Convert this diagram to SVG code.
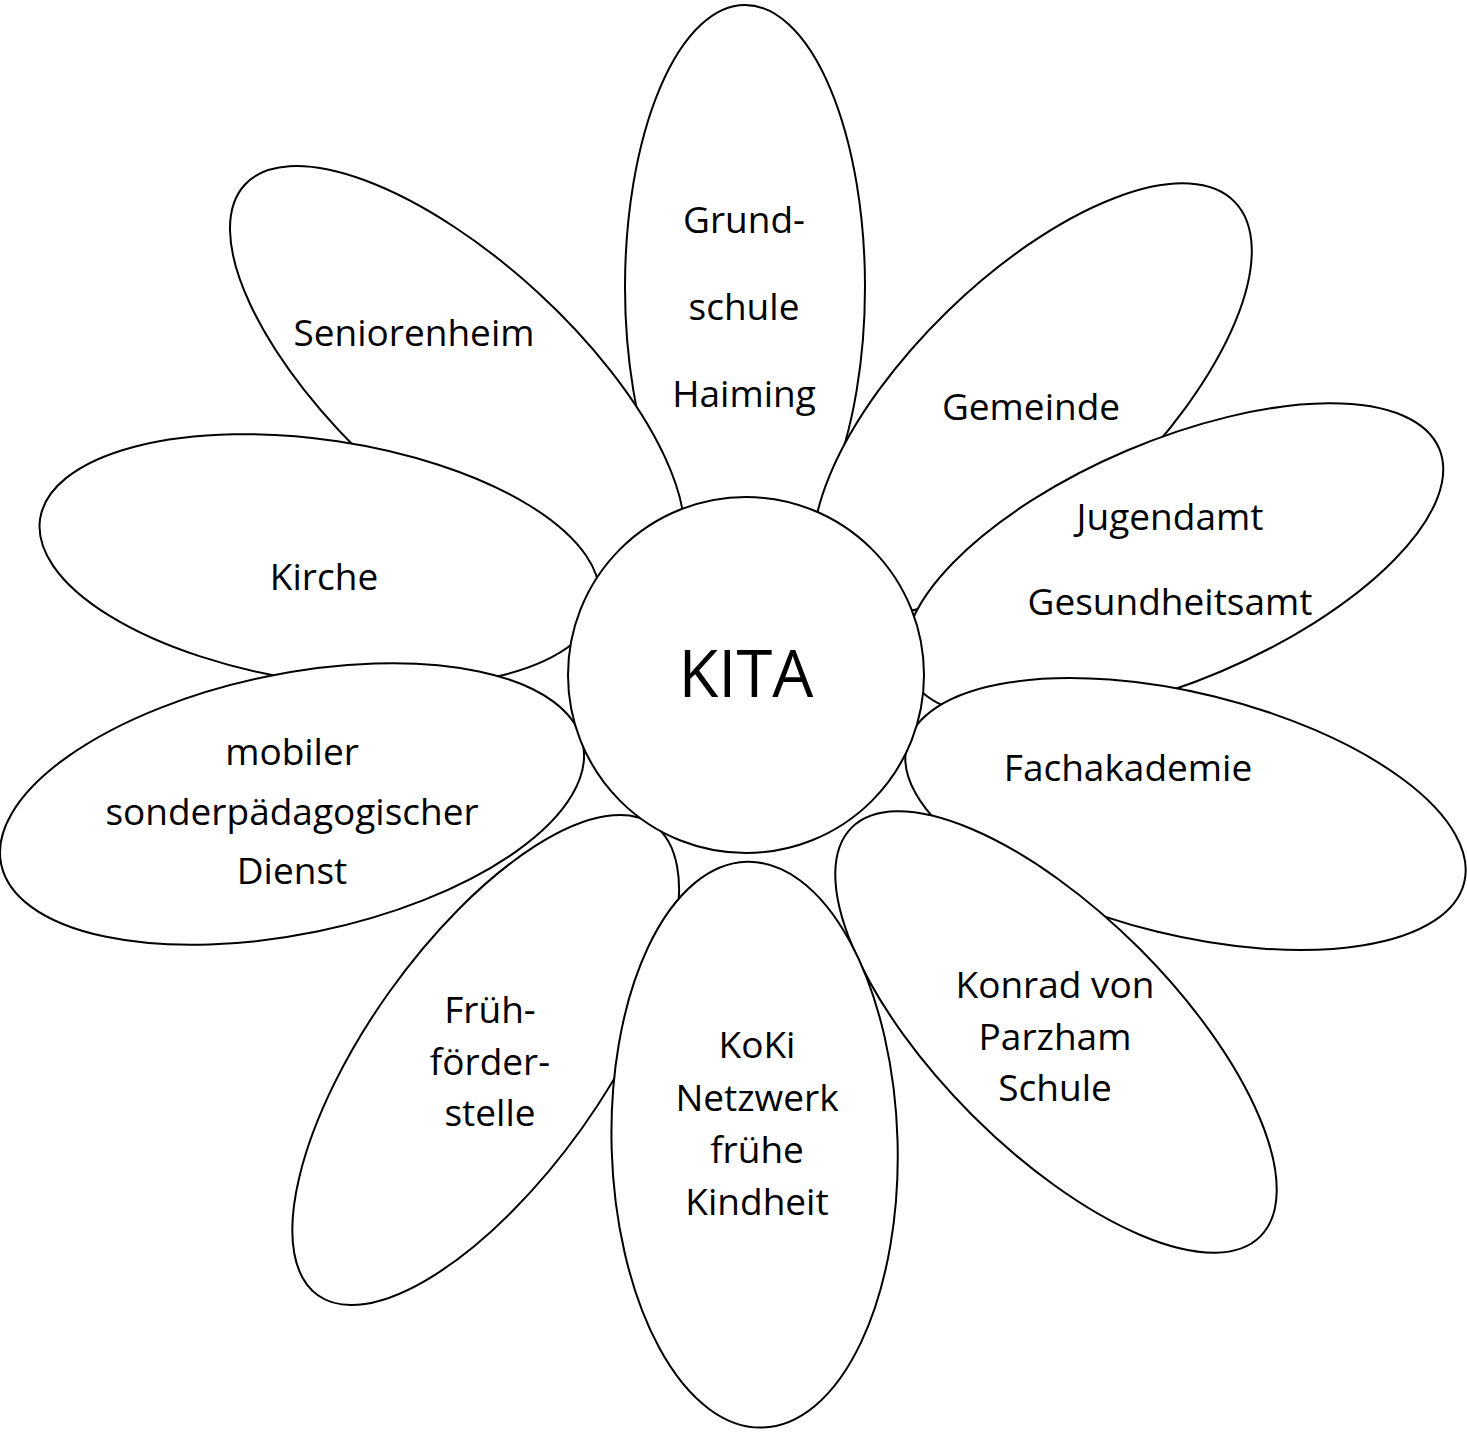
<svg xmlns="http://www.w3.org/2000/svg" width="1467" height="1434" viewBox="0 0 1467 1434">
<style>
.p{fill:#fff;stroke:#000;stroke-width:2}
.t{font-family:"Open Sans","Noto Sans","Liberation Sans",sans-serif;font-size:37px;fill:#000;text-anchor:middle}
.k{font-size:65px}
</style>
<rect width="1467" height="1434" fill="#fff"/>
<g id="petal-grundschule">
<ellipse class="p" cx="745" cy="287" rx="120" ry="282"/>
<text class="t" x="744" y="233">Grund-</text>
<text class="t" x="744" y="320">schule</text>
<text class="t" x="744" y="407">Haiming</text>
</g>
<g id="petal-seniorenheim">
<ellipse class="p" cx="457.3" cy="380.2" rx="288.7" ry="119.1" transform="rotate(42.6 457.3 380.2)"/>
<text class="t" x="414" y="346">Seniorenheim</text>
</g>
<g id="petal-gemeinde">
<ellipse class="p" cx="1032.5" cy="398.5" rx="282" ry="121.8" transform="rotate(-44.2 1032.5 398.5)"/>
<text class="t" x="1031" y="420">Gemeinde</text>
</g>
<g id="petal-kirche">
<ellipse class="p" cx="319.6" cy="560.7" rx="282.6" ry="120.8" transform="rotate(8.5 319.6 560.7)"/>
<text class="t" x="324" y="590">Kirche</text>
</g>
<g id="petal-jugendamt">
<ellipse class="p" cx="1174" cy="561" rx="288" ry="120" transform="rotate(-23 1174 561)"/>
<text class="t" x="1170" y="530">Jugendamt</text>
<text class="t" x="1170" y="615">Gesundheitsamt</text>
</g>
<g id="petal-fachakademie">
<ellipse class="p" cx="1185.5" cy="814" rx="287" ry="121" transform="rotate(13.8 1185.5 814)"/>
<text class="t" x="1128" y="781">Fachakademie</text>
</g>
<g id="petal-mobiler-dienst">
<ellipse class="p" cx="292" cy="804" rx="297" ry="130" transform="rotate(-11.7 292 804)"/>
<text class="t" x="292" y="765">mobiler</text>
<text class="t" x="292" y="825">sonderpädagogischer</text>
<text class="t" x="292" y="884">Dienst</text>
</g>
<g id="petal-konrad">
<ellipse class="p" cx="1056" cy="1032" rx="289" ry="118" transform="rotate(45 1056 1032)"/>
<text class="t" x="1055" y="998">Konrad von</text>
<text class="t" x="1055" y="1050">Parzham</text>
<text class="t" x="1055" y="1101">Schule</text>
</g>
<g id="petal-fruehfoerderstelle">
<ellipse class="p" cx="485.7" cy="1060" rx="289" ry="118" transform="rotate(-54.5 485.7 1060)"/>
<text class="t" x="490" y="1023">Früh-</text>
<text class="t" x="490" y="1075">förder-</text>
<text class="t" x="490" y="1126">stelle</text>
</g>
<g id="petal-koki">
<ellipse class="p" cx="754.6" cy="1144.7" rx="143" ry="283" transform="rotate(-1.6 754.6 1144.7)"/>
<text class="t" x="757" y="1058">KoKi</text>
<text class="t" x="757" y="1111">Netzwerk</text>
<text class="t" x="757" y="1163">frühe</text>
<text class="t" x="757" y="1215">Kindheit</text>
</g>
<g id="center-kita">
<circle class="p" cx="746" cy="675" r="178"/>
<text class="t k" x="746" y="697">KITA</text>
</g>
<g id="connectors"/>
</svg>
